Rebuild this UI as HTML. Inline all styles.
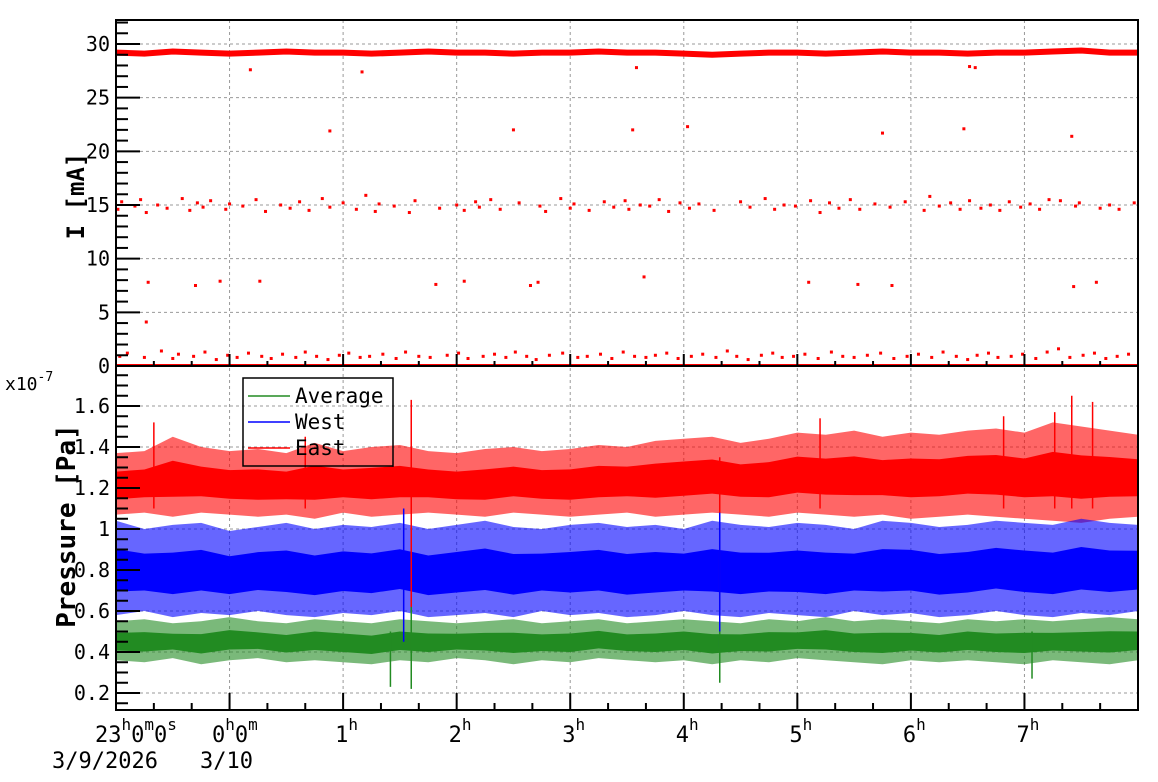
<!DOCTYPE html>
<html><head><meta charset="utf-8">
<style>
html,body{margin:0;padding:0;background:#fff;}
svg{display:block;font-family:"DejaVu Sans Mono","Liberation Mono",monospace;}
</style></head>
<body>
<svg id="chart" width="1158" height="782" viewBox="0 0 1158 782">
<defs>
<clipPath id="clipTop"><rect x="116" y="20" width="1022" height="346"/></clipPath>
<clipPath id="clipBot"><rect x="116" y="366" width="1022" height="344"/></clipPath>
</defs>
<g id="grid"></g>
<g id="topData" clip-path="url(#clipTop)"></g>
<g id="botData" clip-path="url(#clipBot)"></g>
<g id="axes"></g>
<g id="legend">
  <rect x="243" y="378" width="150" height="88" fill="none" stroke="#000" stroke-width="1.5"/>
  <line x1="393" y1="379" x2="393" y2="467" stroke="#000" stroke-width="1"/>
  <g>
    <line x1="248" y1="396" x2="290" y2="396" stroke="#228b22" stroke-width="1.5"/>
    <text x="295" y="403" font-size="21">Average</text>
  </g>
  <g>
    <line x1="248" y1="422" x2="290" y2="422" stroke="#0000ff" stroke-width="1.5"/>
    <text x="295" y="429" font-size="21">West</text>
  </g>
  <g>
    <line x1="248" y1="448" x2="290" y2="448" stroke="#ff0000" stroke-width="1.5"/>
    <text x="295" y="455" font-size="21">East</text>
  </g>
</g>
<text x="5" y="390" font-size="18">x10<tspan dy="-9" font-size="13">-7</tspan></text>
<text transform="translate(84,196) rotate(-90)" text-anchor="middle" font-size="24" font-weight="bold">I [mA]</text>
<text transform="translate(75,526) rotate(-90)" text-anchor="middle" font-size="26" font-weight="bold">Pressure [Pa]</text>
<g font-size="22">
  <text x="95" y="742">23<tspan dy="-12" font-size="16">h</tspan><tspan dy="12">0</tspan><tspan dy="-12" font-size="16">m</tspan><tspan dy="12">0</tspan><tspan dy="-12" font-size="16">s</tspan></text>
  <text x="212" y="742">0<tspan dy="-12" font-size="16">h</tspan><tspan dy="12">0</tspan><tspan dy="-12" font-size="16">m</tspan></text>
  <text x="52" y="768">3/9/2026</text>
  <text x="200" y="768">3/10</text>
</g>
<g id="hourLabels" font-size="22"></g>
</svg>
<script>
// ---- data ----
const hourLabels = ["1","2","3","4","5","6","7"];
const topTicks = [0,5,10,15,20,25,30];
const botTicks = [0.2,0.4,0.6,0.8,1,1.2,1.4,1.6];
const botTickLabels = ["0.2","0.4","0.6","0.8","1","1.2","1.4","1.6"];
// main beam current band (per 15 min bin, minutes since 23:00)
const beamBand = [29.2,29.1,29.3,29.2,29.1,29.2,29.3,29.2,29.2,29.1,29.2,29.3,29.2,29.2,29.1,29.2,29.2,29.3,29.2,29.2,29.1,29.0,29.1,29.2,29.2,29.1,29.2,29.3,29.2,29.2,29.1,29.2,29.2,29.3,29.4,29.2,29.2];
const midT = [1,3,10,13,16,22,27,35,39,43,46,50,58,60,67,74,79,87,92,97,102,109,113,120,127,132,137,139,147,155,158,171,180,184,190,192,198,203,213,224,227,235,240,242,250,258,263,269,271,277,282,287,292,298,303,308,316,330,335,343,348,353,359,367,372,377,382,388,393,401,409,417,427,430,435,441,446,451,457,462,467,472,478,483,488,493,499,507,509,520,525,530,538];
const midV = [14.6,15.3,14.9,15.5,14.3,15.0,14.7,15.6,14.5,15.2,14.8,15.4,14.6,15.1,14.9,15.5,14.4,15.0,14.7,15.3,14.5,15.6,14.8,15.2,14.6,15.9,14.4,15.1,14.9,14.3,15.4,14.7,15.0,14.5,15.3,14.8,15.5,14.6,15.2,14.9,14.4,15.6,14.7,15.1,14.5,15.3,14.8,15.4,14.6,15.0,14.9,15.5,14.4,15.2,14.7,15.1,14.5,15.3,14.8,15.6,14.6,15.0,14.9,15.4,14.3,15.2,14.7,15.5,14.6,15.1,14.8,15.3,14.5,15.8,14.9,15.2,14.6,15.4,14.7,15.0,14.5,15.3,14.8,15.1,14.6,15.5,15.4,14.9,15.2,14.7,15.0,14.6,15.2];
const lowT = [2,6,15,24,30,33,41,47,53,59,64,70,77,82,88,95,100,106,112,118,123,129,134,141,148,153,160,166,175,181,186,194,200,206,211,217,222,229,236,244,249,256,262,268,274,280,285,291,297,304,310,317,323,328,334,341,347,352,358,364,371,378,384,390,397,404,411,418,424,431,437,444,450,455,461,466,473,479,486,492,498,504,511,517,523,529,535];
const lowV = [0.9,1.2,0.8,1.4,0.7,1.1,0.9,1.3,0.6,1.0,0.8,1.2,0.9,0.7,1.1,0.8,1.3,0.9,0.6,1.0,1.2,0.8,0.9,1.1,0.7,1.3,0.9,0.8,1.0,1.2,0.7,0.9,1.1,0.8,1.3,0.9,0.6,1.0,1.2,0.8,0.9,1.1,0.7,1.3,0.9,0.8,1.0,1.2,0.7,0.9,1.1,0.8,1.4,0.9,0.6,1.0,1.2,0.8,0.9,1.1,0.7,1.3,0.9,0.8,1.0,1.2,0.7,0.9,1.1,0.8,1.3,0.9,0.6,1.0,1.2,0.8,0.9,1.1,0.7,1.3,1.6,0.8,1.0,1.2,0.7,0.9,1.1];
const oddT = [16,17,42,55,76,169,184,219,223,279,366,392,410,506,518,113,210,273,302,405,448,505,71,130,275,451,454];
const oddV = [4.1,7.8,7.5,7.9,7.9,7.6,7.9,7.5,7.8,8.3,7.8,7.6,7.5,7.4,7.8,21.9,22.0,22.0,22.3,21.7,22.1,21.4,27.6,27.4,27.8,27.9,27.8];
// pressure envelopes per 15-min bin (x1e-7 Pa)
const redHi  = [1.37,1.38,1.45,1.40,1.38,1.39,1.37,1.42,1.38,1.40,1.41,1.38,1.37,1.39,1.40,1.38,1.39,1.41,1.40,1.43,1.44,1.45,1.42,1.44,1.47,1.46,1.48,1.45,1.47,1.46,1.48,1.49,1.47,1.52,1.50,1.48,1.46];
const redLo  = [1.07,1.08,1.06,1.08,1.07,1.06,1.07,1.05,1.08,1.06,1.07,1.08,1.07,1.06,1.08,1.07,1.06,1.07,1.08,1.06,1.07,1.08,1.07,1.06,1.08,1.07,1.06,1.07,1.05,1.06,1.07,1.06,1.05,1.04,1.03,1.05,1.06];
const blueHi = [1.04,1.00,1.02,1.03,0.99,1.01,1.03,1.00,1.02,1.01,1.03,1.00,1.02,1.04,1.01,1.00,1.02,1.03,1.01,1.02,1.00,1.04,1.02,1.01,1.03,1.02,1.00,1.04,1.03,1.01,1.02,1.04,1.03,1.02,1.05,1.03,1.02];
const blueLo = [0.58,0.60,0.57,0.59,0.58,0.60,0.58,0.57,0.59,0.58,0.60,0.57,0.58,0.59,0.57,0.60,0.58,0.59,0.57,0.58,0.60,0.58,0.57,0.59,0.58,0.57,0.60,0.58,0.59,0.57,0.58,0.60,0.58,0.57,0.59,0.58,0.60];
const greenHi= [0.55,0.56,0.54,0.55,0.57,0.55,0.54,0.56,0.55,0.54,0.56,0.55,0.54,0.55,0.56,0.54,0.55,0.56,0.54,0.55,0.56,0.55,0.54,0.56,0.55,0.57,0.55,0.56,0.55,0.54,0.56,0.55,0.56,0.55,0.56,0.57,0.56];
const greenLo= [0.36,0.35,0.37,0.34,0.36,0.37,0.35,0.36,0.35,0.34,0.36,0.35,0.37,0.36,0.34,0.36,0.35,0.37,0.36,0.35,0.36,0.34,0.36,0.35,0.37,0.36,0.35,0.34,0.36,0.35,0.36,0.35,0.34,0.36,0.35,0.34,0.36];
// spikes: minute, lo, hi
const redSpikeT = [20,100,156,319,372,469,496,505,516];
const redSpikeLo = [1.10,1.10,0.25,0.60,1.10,1.10,1.10,1.10,1.10];
const redSpikeHi = [1.52,1.45,1.63,1.35,1.54,1.55,1.57,1.65,1.62];
const blueSpikeT = [152,319];
const blueSpikeLo = [0.45,0.42];
const blueSpikeHi = [1.10,1.08];
const greenSpikeT = [145,156,319,484];
const greenSpikeLo = [0.23,0.22,0.25,0.27];
const greenSpikeHi = [0.50,0.62,0.50,0.50];

// ---- scales ----
const NS="http://www.w3.org/2000/svg";
const X0=116,X1=1138,TMAX=540;
const X=m=>X0+m*(X1-X0)/TMAX;
const YT=v=>366-v*10.733;
const YB=v=>693-(v-0.2)*205;
const binMin=i=>i*15;
function mk(tag,attrs,parent){const e=document.createElementNS(NS,tag);for(const k in attrs)e.setAttribute(k,attrs[k]);parent.appendChild(e);return e;}
const grid=document.getElementById('grid'),axes=document.getElementById('axes');
const topD=document.getElementById('topData'),botD=document.getElementById('botData');

// grid
for(let h=1;h<=8;h++){const x=X(h*60);
 const g1=mk('line',{x1:x,y1:20,x2:x,y2:710,stroke:'#999','stroke-width':1,'stroke-dasharray':'3,3'},grid);
 
 }
topTicks.forEach(v=>{if(v===0)return;const l=mk('line',{x1:X0,y1:YT(v),x2:X1,y2:YT(v),stroke:'#999','stroke-width':1,'stroke-dasharray':'3,3'},grid);
 
 });
botTicks.forEach(v=>{const l=mk('line',{x1:X0,y1:YB(v),x2:X1,y2:YB(v),stroke:'#999','stroke-width':1,'stroke-dasharray':'3,3'},grid);
 
 });

// top data
const zeroLine=mk('line',{x1:X0,y1:YT(0),x2:X1,y2:YT(0),stroke:'#f00','stroke-width':4},topD);


let pts=beamBand.map((v,i)=>X(binMin(i))+','+YT(v)).join(' ');
const beam=mk('polyline',{points:pts,fill:'none',stroke:'#f00','stroke-width':6},topD);


function dots(ts,vs,name){ts.forEach((t,i)=>{const r=mk('rect',{x:X(t)-1.5,y:YT(vs[i])-1.5,width:3,height:3,fill:'#f00'},topD);
 
 });}
dots(midT,midV,'current-point-mid');
dots(lowT,lowV,'current-point-low');
dots(oddT,oddV,'current-point-outlier');

// bottom data
function band(lo,hi,color,name){
 let up=hi.map((v,i)=>X(binMin(i))+','+YB(v));
 let dn=lo.map((v,i)=>X(binMin(i))+','+YB(v)).reverse();
 const o=mk('polygon',{points:up.concat(dn).join(' '),fill:color,'fill-opacity':0.6},botD);
 
 
 let cu=hi.map((v,i)=>X(binMin(i))+','+YB(v-0.3*(v-lo[i])));
 let cd=lo.map((v,i)=>X(binMin(i))+','+YB(v+0.25*(hi[i]-v))).reverse();
 const c=mk('polygon',{points:cu.concat(cd).join(' '),fill:color},botD);
 
 
}
function spikes(ts,lo,hi,color,name){ts.forEach((t,i)=>{const l=mk('line',{x1:X(t),y1:YB(lo[i]),x2:X(t),y2:YB(hi[i]),stroke:color,'stroke-width':1.5},botD);
 
 });}
band(redLo,redHi,'#ff0000','east-pressure');
band(blueLo,blueHi,'#0000ff','west-pressure');
band(greenLo,greenHi,'#228b22','average-pressure');
spikes(redSpikeT,redSpikeLo,redSpikeHi,'#ff0000','east-spike');
spikes(blueSpikeT,blueSpikeLo,blueSpikeHi,'#0000ff','west-spike');
spikes(greenSpikeT,greenSpikeLo,greenSpikeHi,'#228b22','average-spike');

// axes frames
[[20,366,'top-plot-frame'],[366,710,'bottom-plot-frame']].forEach(([y0,y1,n])=>{
 const r=mk('rect',{x:X0,y:y0,width:X1-X0,height:y1-y0,fill:'none',stroke:'#000','stroke-width':2},axes);
 
 });
// top y ticks
for(let v=0;v<=32;v++){const maj=v%5===0;mk('line',{x1:X0,y1:YT(v),x2:X0+(maj?24:12),y2:YT(v),stroke:'#000','stroke-width':2},axes);}
topTicks.forEach(v=>{const t=mk('text',{x:110,y:YT(v)+7,'text-anchor':'end','font-size':20},axes);t.textContent=String(v);
 
 });
// bottom y ticks
for(let k=0;k<=32;k++){const v=0.15+k*0.05;const y=YB(v);if(y<367||y>709)continue;const maj=(k-1)%4===0;
 mk('line',{x1:X0,y1:y,x2:X0+(maj?24:12),y2:y,stroke:'#000','stroke-width':2},axes);}
botTicks.forEach((v,i)=>{const t=mk('text',{x:110,y:YB(v)+7,'text-anchor':'end','font-size':20},axes);t.textContent=botTickLabels[i];
 
 });
// x ticks (both panels)
for(let m=20;m<TMAX;m+=20){const maj=m%60===0;const x=X(m);
 mk('line',{x1:x,y1:710,x2:x,y2:710-(maj?17:7),stroke:'#000','stroke-width':2},axes);
 mk('line',{x1:x,y1:366,x2:x,y2:366-(maj?12:5),stroke:'#000','stroke-width':2},axes);}
const hl=document.getElementById('hourLabels');
hourLabels.forEach((s,i)=>{const x=X((i+2)*60);const t=mk('text',{x:x-8,y:742},hl);
 
 
 t.innerHTML=s+'<tspan dy="-12" font-size="16">h</tspan>';});
</script>
</body></html>
